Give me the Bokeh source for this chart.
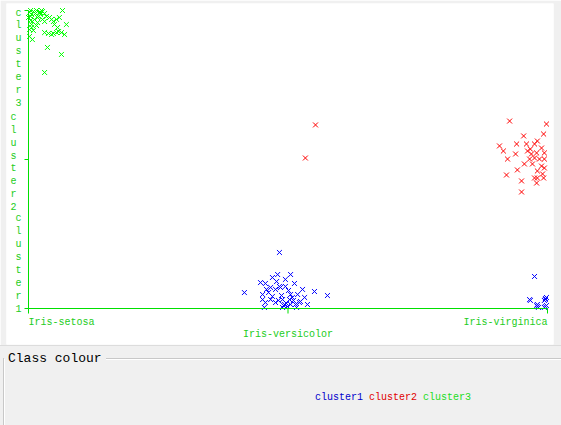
from math import pi
from bokeh.plotting import figure
from bokeh.models import Range1d, Div, ColumnDataSource
from bokeh.layouts import column
from bokeh.embed import file_html
from bokeh.resources import INLINE
from bokeh.core.properties import value

classes = ["Iris-setosa", "Iris-versicolor", "Iris-virginica"]
clusters = ["cluster1", "cluster2", "cluster3"]
cluster_colors = ["#0000ff", "#ff0000", "#00ff00"]
legend_colors = ["#0000cc", "#e00000", "#22dd22"]

# jittered positions: x = class index (+jitter), y = cluster index (+jitter)
# cluster1: Iris-versicolor (48) + Iris-virginica (14)
c1_x = [0.967, 0.960, 1.010, 0.940, 0.990, 0.894, 0.913, 1.025, 0.933, 0.967,
        0.990, 0.952, 0.971, 0.832, 1.056, 1.102, 1.152, 0.902, 1.010, 1.037,
        0.902, 0.933, 0.979, 1.017, 1.064, 0.913, 0.952, 0.987, 1.010, 1.044,
        1.075, 0.909, 0.979, 0.998, 1.029, 1.048, 0.983, 0.994, 0.963, 0.925,
        1.002, 0.940, 1.021, 0.975, 0.956, 0.917, 1.033, 1.006,
        1.950, 1.931, 1.992, 1.988, 1.996, 1.961, 1.958, 1.965, 1.992, 1.996,
        1.988, 1.961, 1.934, 1.992]
c1_y = [0.376, 0.228, 0.228, 0.208, 0.195, 0.174, 0.168, 0.168, 0.141, 0.148,
        0.148, 0.128, 0.141, 0.107, 0.128, 0.114, 0.087, 0.094, 0.094, 0.094,
        0.060, 0.060, 0.060, 0.074, 0.074, 0.040, 0.040, 0.027, 0.027, 0.040,
        0.027, 0.007, 0.007, 0.013, 0.027, 0.047, 0.020, 0.034, 0.054, 0.107,
        0.121, 0.081, 0.054, 0.087, 0.181, 0.128, 0.007, 0.060,
        0.215, 0.060, 0.067, 0.054, 0.074, 0.013, 0.020, 0.007, 0.013, 0.020,
        0.007, 0.027, 0.054, 0.060]

# cluster2: Iris-versicolor (2) + Iris-virginica (36)
c2_x = [1.067, 1.106,
        1.854, 1.996, 1.985, 1.908, 1.815, 1.881, 1.919, 1.961, 1.977, 1.950,
        1.830, 1.877, 1.923, 1.938, 1.958, 1.988, 1.846, 1.911, 1.931, 1.950,
        1.969, 1.988, 1.942, 1.977, 1.961, 1.988, 1.884, 1.981, 1.842, 1.985,
        1.961, 1.900, 1.950, 1.958, 1.900, 1.934]
c2_y = [1.010, 1.232,
        1.258, 1.238, 1.171, 1.158, 1.091, 1.104, 1.104, 1.124, 1.077, 1.104,
        1.057, 1.037, 1.057, 1.037, 1.044, 1.044, 1.003, 0.970, 1.003, 1.010,
        1.003, 1.003, 0.970, 0.956, 0.923, 0.943, 0.930, 0.903, 0.896, 0.876,
        0.876, 0.856, 0.876, 0.842, 0.782, 1.070]

# cluster3: Iris-setosa (50)
c3_x = [0.008, 0.019, 0.031, 0.042, 0.050, 0.054, 0.062, 0.012, 0.000, 0.008,
        0.023, 0.035, 0.015, 0.035, 0.012, 0.062, 0.081, 0.089, 0.108, 0.119,
        0.131, 0.100, 0.112, 0.146, 0.004, 0.062, 0.089, 0.108, 0.127, 0.139,
        0.004, 0.015, 0.073, 0.127, 0.062, 0.046, 0.027, 0.004, 0.069, 0.096,
        0.116, 0.077, 0.012, 0.039, 0.054, 0.019, 0.008, 0.031, 0.096, 0.046]
c3_y = [2.000, 1.993, 2.000, 1.987, 2.000, 1.993, 1.980, 1.973, 1.953, 1.960,
        1.940, 1.953, 1.926, 1.919, 1.906, 1.926, 1.953, 1.940, 1.940, 1.953,
        2.000, 1.906, 1.886, 1.906, 1.872, 1.852, 1.839, 1.852, 1.852, 1.839,
        1.826, 1.805, 1.752, 1.705, 1.584, 1.973, 1.980, 1.987, 1.960, 1.926,
        1.859, 1.846, 1.886, 1.960, 1.940, 1.866, 1.933, 1.899, 1.846, 1.987]

axis_green = "#00e000"
label_green = "#22cc22"
FONT = value("Liberation Mono")

nx = len(classes) - 1
ny = len(clusters) - 1

p = figure(width=561, height=345,
           x_range=Range1d(-0.0848, 2.0231), y_range=Range1d(-0.2416, 2.047),
           toolbar_location=None, output_backend="svg",
           x_axis_location=None, y_axis_location=None,
           min_border_left=6, min_border_right=8, min_border_top=3, min_border_bottom=1,
           background_fill_color="white", border_fill_color="#f0f0f0",
           outline_line_color=None)
p.grid.visible = False

# points (one source, colour per cluster)
all_x, all_y, all_c = [], [], []
for xs, ys, col in zip([c1_x, c2_x, c3_x], [c1_y, c2_y, c3_y], cluster_colors):
    all_x += xs
    all_y += ys
    all_c += [col] * len(xs)
src = ColumnDataSource(dict(x=all_x, y=all_y, c=all_c))
p.scatter(x="x", y="y", source=src, marker="x", size=7, line_color="c",
          line_width=1, line_alpha=1.0)

# axes
p.segment(x0=[0, 0], y0=[0, 0], x1=[0, nx], y1=[ny, 0], line_color=axis_green, line_width=1)
p.ray(x=list(range(nx + 1)), y=[0] * (nx + 1), length=5, length_units="screen",
      angle=-pi / 2, line_color=axis_green, line_width=1)
p.ray(x=[0] * (ny + 1), y=list(range(ny + 1)), length=4, length_units="screen",
      angle=pi, line_color=axis_green, line_width=1)

# x tick labels
for i, (name, align, off) in enumerate(zip(classes, ["left", "center", "right"], [14, 26, 14])):
    p.text(x=[i], y=[0], text=[name], text_align=align, text_baseline="middle",
           y_offset=off, text_font=FONT, text_font_size="10px", text_color=label_green)

# y tick labels (vertical, letter by letter)
ysets = [("bottom", 6, -10), ("middle", 3, -15), ("top", -3, -10)]
for j, (name, (base, yoff, xoff)) in enumerate(zip(clusters, ysets)):
    p.text(x=[0], y=[j], text=["\n".join(name)], text_align="center", text_baseline=base,
           x_offset=xoff, y_offset=yoff, text_font=FONT, text_font_size="10px",
           text_line_height=1.18, text_color=label_green)

legend_spans = " ".join(
    f'<span style="color:{c}">{n}</span>' for n, c in zip(clusters, legend_colors))
html = f"""
<div style="position:relative;width:561px;height:80px;background:#f0f0f0;font-family:'Liberation Mono',monospace;overflow:hidden;">
  <div style="position:absolute;left:0;top:0;width:561px;height:1px;background:#dcdcdc;"></div>
  <div style="position:absolute;left:3px;top:13px;width:1px;height:67px;background:#c8c8c8;"></div>
  <div style="position:absolute;left:4px;top:14px;width:1px;height:66px;background:#ffffff;"></div>
  <div style="position:absolute;left:106px;top:13px;width:455px;height:1px;background:#c8c8c8;"></div>
  <div style="position:absolute;left:106px;top:14px;width:455px;height:1px;background:#ffffff;"></div>
  <div style="position:absolute;left:8px;top:6px;font-size:13px;line-height:16px;color:#000;white-space:pre;">Class colour</div>
  <div style="position:absolute;left:315px;top:47px;font-size:10px;line-height:12px;white-space:pre;">{legend_spans}</div>
</div>
"""
div = Div(text=html, width=561, height=80, margin=(0, 0, 0, 0))

layout = column(p, div, spacing=0)
open("out.html", "w").write(file_html(layout, INLINE))
